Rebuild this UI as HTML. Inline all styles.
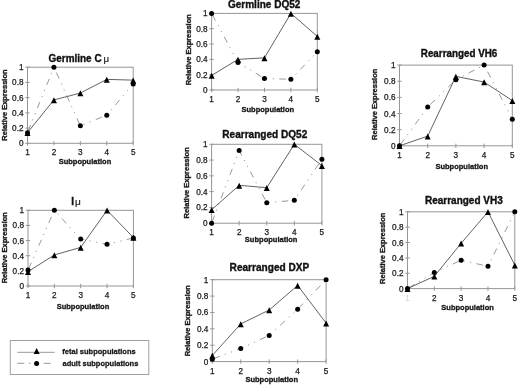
<!DOCTYPE html>
<html><head><meta charset="utf-8"><style>
html,body{margin:0;padding:0;background:#fff;}
svg{display:block;filter:grayscale(1);}
text{font-family:"Liberation Sans",sans-serif;fill:#1a1a1a;}
.tk{font-size:8.2px;stroke:#1a1a1a;stroke-width:0.25px;}
.xl{font-size:8px;font-weight:bold;stroke:#1a1a1a;stroke-width:0.35px;}
.mu{font-size:10px;fill:#222;stroke:#222;stroke-width:0.2px;}
.tt{font-size:10px;font-weight:bold;fill:#111;stroke:#111;stroke-width:0.35px;}
.lg{font-size:7.5px;font-weight:bold;stroke:#1a1a1a;stroke-width:0.3px;}
</style></head><body>
<svg width="520" height="385" viewBox="0 0 520 385">
<rect width="520" height="385" fill="#fff"/>
<rect x="27.5" y="67.2" width="105.7" height="76.1" fill="none" stroke="#969696" stroke-width="1"/>
<line x1="25.3" x2="29.7" y1="143.3" y2="143.3" stroke="#969696" stroke-width="1"/>
<text x="23.5" y="146.3" text-anchor="end" class="tk">0</text>
<line x1="25.3" x2="29.7" y1="128.08" y2="128.08" stroke="#969696" stroke-width="1"/>
<text x="23.5" y="131.08" text-anchor="end" class="tk">0.2</text>
<line x1="25.3" x2="29.7" y1="112.86" y2="112.86" stroke="#969696" stroke-width="1"/>
<text x="23.5" y="115.86" text-anchor="end" class="tk">0.4</text>
<line x1="25.3" x2="29.7" y1="97.64" y2="97.64" stroke="#969696" stroke-width="1"/>
<text x="23.5" y="100.64" text-anchor="end" class="tk">0.6</text>
<line x1="25.3" x2="29.7" y1="82.42" y2="82.42" stroke="#969696" stroke-width="1"/>
<text x="23.5" y="85.42" text-anchor="end" class="tk">0.8</text>
<line x1="25.3" x2="29.7" y1="67.2" y2="67.2" stroke="#969696" stroke-width="1"/>
<text x="23.5" y="70.2" text-anchor="end" class="tk">1</text>
<line x1="27.5" x2="27.5" y1="141.1" y2="145.5" stroke="#969696" stroke-width="1"/>
<text x="27.5" y="155.4" text-anchor="middle" class="tk">1</text>
<line x1="53.92" x2="53.92" y1="141.1" y2="145.5" stroke="#969696" stroke-width="1"/>
<text x="53.92" y="155.4" text-anchor="middle" class="tk">2</text>
<line x1="80.35" x2="80.35" y1="141.1" y2="145.5" stroke="#969696" stroke-width="1"/>
<text x="80.35" y="155.4" text-anchor="middle" class="tk">3</text>
<line x1="106.77" x2="106.77" y1="141.1" y2="145.5" stroke="#969696" stroke-width="1"/>
<text x="106.77" y="155.4" text-anchor="middle" class="tk">4</text>
<line x1="133.2" x2="133.2" y1="141.1" y2="145.5" stroke="#969696" stroke-width="1"/>
<text x="133.2" y="155.4" text-anchor="middle" class="tk">5</text>
<text x="84.95" y="163.6" text-anchor="middle" textLength="52.6" lengthAdjust="spacingAndGlyphs" class="xl">Subpopulation</text>
<text transform="translate(7 105.05) rotate(-90)" text-anchor="middle" textLength="71.2" lengthAdjust="spacingAndGlyphs" class="xl">Relative Expression</text>
<text x="48.5" y="61.8" textLength="53.1" lengthAdjust="spacingAndGlyphs" class="tt">Germline C</text>
<text x="103.4" y="61.8" class="mu" style="font-size:9.2px" textLength="5.6" lengthAdjust="spacingAndGlyphs">&#956;</text>
<polyline points="27.5,132.65 53.92,67.2 80.35,125.8 106.77,115.14 133.2,83.94" fill="none" stroke="#999" stroke-width="1" stroke-dasharray="6.6 5.2 1.2 5.4 1.2 5.4" stroke-dashoffset="-1.5"/>
<polyline points="27.5,132.65 53.92,99.92 80.35,93.07 106.77,79.38 133.2,80.14" fill="none" stroke="#626262" stroke-width="1"/>
<circle cx="27.5" cy="132.65" r="2.5" fill="#000"/>
<circle cx="53.92" cy="67.2" r="2.5" fill="#000"/>
<circle cx="80.35" cy="125.8" r="2.5" fill="#000"/>
<circle cx="106.77" cy="115.14" r="2.5" fill="#000"/>
<circle cx="133.2" cy="83.94" r="2.5" fill="#000"/>
<path d="M27.5 129.95L30.5 135.95L24.5 135.95Z" fill="#000"/>
<path d="M53.92 97.22L56.92 103.22L50.92 103.22Z" fill="#000"/>
<path d="M80.35 90.37L83.35 96.37L77.35 96.37Z" fill="#000"/>
<path d="M106.77 76.68L109.77 82.68L103.77 82.68Z" fill="#000"/>
<path d="M133.2 77.44L136.2 83.44L130.2 83.44Z" fill="#000"/><rect x="28" y="210.3" width="105.4" height="75.7" fill="none" stroke="#969696" stroke-width="1"/>
<line x1="25.8" x2="30.2" y1="286" y2="286" stroke="#969696" stroke-width="1"/>
<text x="24" y="289" text-anchor="end" class="tk">0</text>
<line x1="25.8" x2="30.2" y1="270.86" y2="270.86" stroke="#969696" stroke-width="1"/>
<text x="24" y="273.86" text-anchor="end" class="tk">0.2</text>
<line x1="25.8" x2="30.2" y1="255.72" y2="255.72" stroke="#969696" stroke-width="1"/>
<text x="24" y="258.72" text-anchor="end" class="tk">0.4</text>
<line x1="25.8" x2="30.2" y1="240.58" y2="240.58" stroke="#969696" stroke-width="1"/>
<text x="24" y="243.58" text-anchor="end" class="tk">0.6</text>
<line x1="25.8" x2="30.2" y1="225.44" y2="225.44" stroke="#969696" stroke-width="1"/>
<text x="24" y="228.44" text-anchor="end" class="tk">0.8</text>
<line x1="25.8" x2="30.2" y1="210.3" y2="210.3" stroke="#969696" stroke-width="1"/>
<text x="24" y="213.3" text-anchor="end" class="tk">1</text>
<line x1="28" x2="28" y1="283.8" y2="288.2" stroke="#969696" stroke-width="1"/>
<text x="28" y="298.1" text-anchor="middle" class="tk">1</text>
<line x1="54.35" x2="54.35" y1="283.8" y2="288.2" stroke="#969696" stroke-width="1"/>
<text x="54.35" y="298.1" text-anchor="middle" class="tk">2</text>
<line x1="80.7" x2="80.7" y1="283.8" y2="288.2" stroke="#969696" stroke-width="1"/>
<text x="80.7" y="298.1" text-anchor="middle" class="tk">3</text>
<line x1="107.05" x2="107.05" y1="283.8" y2="288.2" stroke="#969696" stroke-width="1"/>
<text x="107.05" y="298.1" text-anchor="middle" class="tk">4</text>
<line x1="133.4" x2="133.4" y1="283.8" y2="288.2" stroke="#969696" stroke-width="1"/>
<text x="133.4" y="298.1" text-anchor="middle" class="tk">5</text>
<text x="82.95" y="308.5" text-anchor="middle" textLength="52.6" lengthAdjust="spacingAndGlyphs" class="xl">Subpopulation</text>
<text transform="translate(6.9 247.7) rotate(-90)" text-anchor="middle" textLength="71.2" lengthAdjust="spacingAndGlyphs" class="xl">Relative Expression</text>
<text x="71.3" y="204.6" class="tt">I</text>
<text x="74.9" y="204.5" class="mu" style="font-size:8.6px" textLength="5.8" lengthAdjust="spacingAndGlyphs">&#956;</text>
<polyline points="28,270.1 54.35,210.3 80.7,239.07 107.05,244.37 133.4,237.93" fill="none" stroke="#999" stroke-width="1" stroke-dasharray="6.6 5.2 1.2 5.4 1.2 5.4" stroke-dashoffset="-1.5"/>
<polyline points="28,271.62 54.35,254.96 80.7,247.39 107.05,210.3 133.4,237.55" fill="none" stroke="#626262" stroke-width="1"/>
<circle cx="28" cy="270.1" r="2.5" fill="#000"/>
<circle cx="54.35" cy="210.3" r="2.5" fill="#000"/>
<circle cx="80.7" cy="239.07" r="2.5" fill="#000"/>
<circle cx="107.05" cy="244.37" r="2.5" fill="#000"/>
<circle cx="133.4" cy="237.93" r="2.5" fill="#000"/>
<path d="M28 268.92L31 274.92L25 274.92Z" fill="#000"/>
<path d="M54.35 252.26L57.35 258.26L51.35 258.26Z" fill="#000"/>
<path d="M80.7 244.69L83.7 250.69L77.7 250.69Z" fill="#000"/>
<path d="M107.05 207.6L110.05 213.6L104.05 213.6Z" fill="#000"/>
<path d="M133.4 234.85L136.4 240.85L130.4 240.85Z" fill="#000"/><rect x="211.6" y="13.4" width="105.7" height="76.6" fill="none" stroke="#969696" stroke-width="1"/>
<line x1="209.4" x2="213.8" y1="90" y2="90" stroke="#969696" stroke-width="1"/>
<text x="207.6" y="93" text-anchor="end" class="tk">0</text>
<line x1="209.4" x2="213.8" y1="74.68" y2="74.68" stroke="#969696" stroke-width="1"/>
<text x="207.6" y="77.68" text-anchor="end" class="tk">0.2</text>
<line x1="209.4" x2="213.8" y1="59.36" y2="59.36" stroke="#969696" stroke-width="1"/>
<text x="207.6" y="62.36" text-anchor="end" class="tk">0.4</text>
<line x1="209.4" x2="213.8" y1="44.04" y2="44.04" stroke="#969696" stroke-width="1"/>
<text x="207.6" y="47.04" text-anchor="end" class="tk">0.6</text>
<line x1="209.4" x2="213.8" y1="28.72" y2="28.72" stroke="#969696" stroke-width="1"/>
<text x="207.6" y="31.72" text-anchor="end" class="tk">0.8</text>
<line x1="209.4" x2="213.8" y1="13.4" y2="13.4" stroke="#969696" stroke-width="1"/>
<text x="207.6" y="16.4" text-anchor="end" class="tk">1</text>
<line x1="211.6" x2="211.6" y1="87.8" y2="92.2" stroke="#969696" stroke-width="1"/>
<text x="211.6" y="102.1" text-anchor="middle" class="tk">1</text>
<line x1="238.03" x2="238.03" y1="87.8" y2="92.2" stroke="#969696" stroke-width="1"/>
<text x="238.03" y="102.1" text-anchor="middle" class="tk">2</text>
<line x1="264.45" x2="264.45" y1="87.8" y2="92.2" stroke="#969696" stroke-width="1"/>
<text x="264.45" y="102.1" text-anchor="middle" class="tk">3</text>
<line x1="290.88" x2="290.88" y1="87.8" y2="92.2" stroke="#969696" stroke-width="1"/>
<text x="290.88" y="102.1" text-anchor="middle" class="tk">4</text>
<line x1="317.3" x2="317.3" y1="87.8" y2="92.2" stroke="#969696" stroke-width="1"/>
<text x="317.3" y="102.1" text-anchor="middle" class="tk">5</text>
<text x="267.8" y="111.6" text-anchor="middle" textLength="52.6" lengthAdjust="spacingAndGlyphs" class="xl">Subpopulation</text>
<text transform="translate(190.7 49.75) rotate(-90)" text-anchor="middle" textLength="71.2" lengthAdjust="spacingAndGlyphs" class="xl">Relative Expression</text>
<text x="227.9" y="7.8" textLength="72.5" lengthAdjust="spacingAndGlyphs" class="tt">Germline DQ52</text>
<polyline points="211.6,13.4 238.03,62.42 264.45,78.51 290.88,79.28 317.3,51.7" fill="none" stroke="#999" stroke-width="1" stroke-dasharray="6.6 5.2 1.2 5.4 1.2 5.4" stroke-dashoffset="-1.5"/>
<polyline points="211.6,75.45 238.03,59.36 264.45,57.83 290.88,13.4 317.3,36.38" fill="none" stroke="#626262" stroke-width="1"/>
<circle cx="211.6" cy="13.4" r="2.5" fill="#000"/>
<circle cx="238.03" cy="62.42" r="2.5" fill="#000"/>
<circle cx="264.45" cy="78.51" r="2.5" fill="#000"/>
<circle cx="290.88" cy="79.28" r="2.5" fill="#000"/>
<circle cx="317.3" cy="51.7" r="2.5" fill="#000"/>
<path d="M211.6 72.75L214.6 78.75L208.6 78.75Z" fill="#000"/>
<path d="M238.03 56.66L241.03 62.66L235.03 62.66Z" fill="#000"/>
<path d="M264.45 55.13L267.45 61.13L261.45 61.13Z" fill="#000"/>
<path d="M290.88 10.7L293.88 16.7L287.88 16.7Z" fill="#000"/>
<path d="M317.3 33.68L320.3 39.68L314.3 39.68Z" fill="#000"/><rect x="211.6" y="144.3" width="110.3" height="78.9" fill="none" stroke="#969696" stroke-width="1"/>
<line x1="209.4" x2="213.8" y1="223.2" y2="223.2" stroke="#969696" stroke-width="1"/>
<text x="207.6" y="226.2" text-anchor="end" class="tk">0</text>
<line x1="209.4" x2="213.8" y1="207.42" y2="207.42" stroke="#969696" stroke-width="1"/>
<text x="207.6" y="210.42" text-anchor="end" class="tk">0.2</text>
<line x1="209.4" x2="213.8" y1="191.64" y2="191.64" stroke="#969696" stroke-width="1"/>
<text x="207.6" y="194.64" text-anchor="end" class="tk">0.4</text>
<line x1="209.4" x2="213.8" y1="175.86" y2="175.86" stroke="#969696" stroke-width="1"/>
<text x="207.6" y="178.86" text-anchor="end" class="tk">0.6</text>
<line x1="209.4" x2="213.8" y1="160.08" y2="160.08" stroke="#969696" stroke-width="1"/>
<text x="207.6" y="163.08" text-anchor="end" class="tk">0.8</text>
<line x1="209.4" x2="213.8" y1="144.3" y2="144.3" stroke="#969696" stroke-width="1"/>
<text x="207.6" y="147.3" text-anchor="end" class="tk">1</text>
<line x1="211.6" x2="211.6" y1="221" y2="225.4" stroke="#969696" stroke-width="1"/>
<text x="211.6" y="235.3" text-anchor="middle" class="tk">1</text>
<line x1="239.17" x2="239.17" y1="221" y2="225.4" stroke="#969696" stroke-width="1"/>
<text x="239.17" y="235.3" text-anchor="middle" class="tk">2</text>
<line x1="266.75" x2="266.75" y1="221" y2="225.4" stroke="#969696" stroke-width="1"/>
<text x="266.75" y="235.3" text-anchor="middle" class="tk">3</text>
<line x1="294.32" x2="294.32" y1="221" y2="225.4" stroke="#969696" stroke-width="1"/>
<text x="294.32" y="235.3" text-anchor="middle" class="tk">4</text>
<line x1="321.9" x2="321.9" y1="221" y2="225.4" stroke="#969696" stroke-width="1"/>
<text x="321.9" y="235.3" text-anchor="middle" class="tk">5</text>
<text x="271.15" y="242.4" text-anchor="middle" textLength="52.6" lengthAdjust="spacingAndGlyphs" class="xl">Subpopulation</text>
<text transform="translate(188.6 182.85) rotate(-90)" text-anchor="middle" textLength="71.2" lengthAdjust="spacingAndGlyphs" class="xl">Relative Expression</text>
<text x="222.3" y="137.5" textLength="85" lengthAdjust="spacingAndGlyphs" class="tt">Rearranged DQ52</text>
<polyline points="211.6,223.2 239.17,150.61 266.75,202.69 294.32,200.32 321.9,159.29" fill="none" stroke="#999" stroke-width="1" stroke-dasharray="6.6 5.2 1.2 5.4 1.2 5.4" stroke-dashoffset="-1.5"/>
<polyline points="211.6,209.79 239.17,185.33 266.75,187.69 294.32,144.3 321.9,165.6" fill="none" stroke="#626262" stroke-width="1"/>
<circle cx="211.6" cy="223.2" r="2.5" fill="#000"/>
<circle cx="239.17" cy="150.61" r="2.5" fill="#000"/>
<circle cx="266.75" cy="202.69" r="2.5" fill="#000"/>
<circle cx="294.32" cy="200.32" r="2.5" fill="#000"/>
<circle cx="321.9" cy="159.29" r="2.5" fill="#000"/>
<path d="M211.6 207.09L214.6 213.09L208.6 213.09Z" fill="#000"/>
<path d="M239.17 182.63L242.17 188.63L236.17 188.63Z" fill="#000"/>
<path d="M266.75 185L269.75 191L263.75 191Z" fill="#000"/>
<path d="M294.32 141.6L297.32 147.6L291.32 147.6Z" fill="#000"/>
<path d="M321.9 162.9L324.9 168.9L318.9 168.9Z" fill="#000"/><rect x="212.3" y="279.7" width="113.8" height="81.9" fill="none" stroke="#969696" stroke-width="1"/>
<line x1="210.1" x2="214.5" y1="361.6" y2="361.6" stroke="#969696" stroke-width="1"/>
<text x="208.3" y="364.6" text-anchor="end" class="tk">0</text>
<line x1="210.1" x2="214.5" y1="345.22" y2="345.22" stroke="#969696" stroke-width="1"/>
<text x="208.3" y="348.22" text-anchor="end" class="tk">0.2</text>
<line x1="210.1" x2="214.5" y1="328.84" y2="328.84" stroke="#969696" stroke-width="1"/>
<text x="208.3" y="331.84" text-anchor="end" class="tk">0.4</text>
<line x1="210.1" x2="214.5" y1="312.46" y2="312.46" stroke="#969696" stroke-width="1"/>
<text x="208.3" y="315.46" text-anchor="end" class="tk">0.6</text>
<line x1="210.1" x2="214.5" y1="296.08" y2="296.08" stroke="#969696" stroke-width="1"/>
<text x="208.3" y="299.08" text-anchor="end" class="tk">0.8</text>
<line x1="210.1" x2="214.5" y1="279.7" y2="279.7" stroke="#969696" stroke-width="1"/>
<text x="208.3" y="282.7" text-anchor="end" class="tk">1</text>
<line x1="212.3" x2="212.3" y1="359.4" y2="363.8" stroke="#969696" stroke-width="1"/>
<text x="212.3" y="373.7" text-anchor="middle" class="tk">1</text>
<line x1="240.75" x2="240.75" y1="359.4" y2="363.8" stroke="#969696" stroke-width="1"/>
<text x="240.75" y="373.7" text-anchor="middle" class="tk">2</text>
<line x1="269.2" x2="269.2" y1="359.4" y2="363.8" stroke="#969696" stroke-width="1"/>
<text x="269.2" y="373.7" text-anchor="middle" class="tk">3</text>
<line x1="297.65" x2="297.65" y1="359.4" y2="363.8" stroke="#969696" stroke-width="1"/>
<text x="297.65" y="373.7" text-anchor="middle" class="tk">4</text>
<line x1="326.1" x2="326.1" y1="359.4" y2="363.8" stroke="#969696" stroke-width="1"/>
<text x="326.1" y="373.7" text-anchor="middle" class="tk">5</text>
<text x="271.7" y="381.5" text-anchor="middle" textLength="52.6" lengthAdjust="spacingAndGlyphs" class="xl">Subpopulation</text>
<text transform="translate(189.8 320.7) rotate(-90)" text-anchor="middle" textLength="71.2" lengthAdjust="spacingAndGlyphs" class="xl">Relative Expression</text>
<text x="229.6" y="271.2" textLength="79.6" lengthAdjust="spacingAndGlyphs" class="tt">Rearranged DXP</text>
<polyline points="212.3,359.14 240.75,348.5 269.2,335.39 297.65,309.18 326.1,279.7" fill="none" stroke="#999" stroke-width="1" stroke-dasharray="6.6 5.2 1.2 5.4 1.2 5.4" stroke-dashoffset="-1.5"/>
<polyline points="212.3,355.46 240.75,323.93 269.2,310 297.65,285.43 326.1,323.11" fill="none" stroke="#626262" stroke-width="1"/>
<circle cx="212.3" cy="359.14" r="2.5" fill="#000"/>
<circle cx="240.75" cy="348.5" r="2.5" fill="#000"/>
<circle cx="269.2" cy="335.39" r="2.5" fill="#000"/>
<circle cx="297.65" cy="309.18" r="2.5" fill="#000"/>
<circle cx="326.1" cy="279.7" r="2.5" fill="#000"/>
<path d="M212.3 352.76L215.3 358.76L209.3 358.76Z" fill="#000"/>
<path d="M240.75 321.23L243.75 327.23L237.75 327.23Z" fill="#000"/>
<path d="M269.2 307.3L272.2 313.3L266.2 313.3Z" fill="#000"/>
<path d="M297.65 282.73L300.65 288.73L294.65 288.73Z" fill="#000"/>
<path d="M326.1 320.41L329.1 326.41L323.1 326.41Z" fill="#000"/><rect x="399.5" y="65.1" width="112.8" height="80.7" fill="none" stroke="#969696" stroke-width="1"/>
<line x1="397.3" x2="401.7" y1="145.8" y2="145.8" stroke="#969696" stroke-width="1"/>
<text x="395.5" y="148.8" text-anchor="end" class="tk">0</text>
<line x1="397.3" x2="401.7" y1="129.66" y2="129.66" stroke="#969696" stroke-width="1"/>
<text x="395.5" y="132.66" text-anchor="end" class="tk">0.2</text>
<line x1="397.3" x2="401.7" y1="113.52" y2="113.52" stroke="#969696" stroke-width="1"/>
<text x="395.5" y="116.52" text-anchor="end" class="tk">0.4</text>
<line x1="397.3" x2="401.7" y1="97.38" y2="97.38" stroke="#969696" stroke-width="1"/>
<text x="395.5" y="100.38" text-anchor="end" class="tk">0.6</text>
<line x1="397.3" x2="401.7" y1="81.24" y2="81.24" stroke="#969696" stroke-width="1"/>
<text x="395.5" y="84.24" text-anchor="end" class="tk">0.8</text>
<line x1="397.3" x2="401.7" y1="65.1" y2="65.1" stroke="#969696" stroke-width="1"/>
<text x="395.5" y="68.1" text-anchor="end" class="tk">1</text>
<line x1="399.5" x2="399.5" y1="143.6" y2="148" stroke="#969696" stroke-width="1"/>
<text x="399.5" y="157.9" text-anchor="middle" class="tk">1</text>
<line x1="427.7" x2="427.7" y1="143.6" y2="148" stroke="#969696" stroke-width="1"/>
<text x="427.7" y="157.9" text-anchor="middle" class="tk">2</text>
<line x1="455.9" x2="455.9" y1="143.6" y2="148" stroke="#969696" stroke-width="1"/>
<text x="455.9" y="157.9" text-anchor="middle" class="tk">3</text>
<line x1="484.1" x2="484.1" y1="143.6" y2="148" stroke="#969696" stroke-width="1"/>
<text x="484.1" y="157.9" text-anchor="middle" class="tk">4</text>
<line x1="512.3" x2="512.3" y1="143.6" y2="148" stroke="#969696" stroke-width="1"/>
<text x="512.3" y="157.9" text-anchor="middle" class="tk">5</text>
<text x="461.7" y="168.5" text-anchor="middle" textLength="52.6" lengthAdjust="spacingAndGlyphs" class="xl">Subpopulation</text>
<text transform="translate(377.2 104.3) rotate(-90)" text-anchor="middle" textLength="71.2" lengthAdjust="spacingAndGlyphs" class="xl">Relative Expression</text>
<text x="420.8" y="57" textLength="76.5" lengthAdjust="spacingAndGlyphs" class="tt">Rearranged VH6</text>
<polyline points="399.5,145.8 427.7,107.06 455.9,79.63 484.1,65.1 512.3,119.17" fill="none" stroke="#999" stroke-width="1" stroke-dasharray="6.6 5.2 1.2 5.4 1.2 5.4" stroke-dashoffset="-1.5"/>
<polyline points="399.5,145.8 427.7,136.12 455.9,76.4 484.1,82.05 512.3,100.61" fill="none" stroke="#626262" stroke-width="1"/>
<circle cx="399.5" cy="145.8" r="2.5" fill="#000"/>
<circle cx="427.7" cy="107.06" r="2.5" fill="#000"/>
<circle cx="455.9" cy="79.63" r="2.5" fill="#000"/>
<circle cx="484.1" cy="65.1" r="2.5" fill="#000"/>
<circle cx="512.3" cy="119.17" r="2.5" fill="#000"/>
<path d="M399.5 143.1L402.5 149.1L396.5 149.1Z" fill="#000"/>
<path d="M427.7 133.42L430.7 139.42L424.7 139.42Z" fill="#000"/>
<path d="M455.9 73.7L458.9 79.7L452.9 79.7Z" fill="#000"/>
<path d="M484.1 79.35L487.1 85.35L481.1 85.35Z" fill="#000"/>
<path d="M512.3 97.91L515.3 103.91L509.3 103.91Z" fill="#000"/><rect x="407.5" y="211.8" width="107.3" height="76.8" fill="none" stroke="#969696" stroke-width="1"/>
<line x1="405.3" x2="409.7" y1="288.6" y2="288.6" stroke="#969696" stroke-width="1"/>
<text x="403.5" y="291.6" text-anchor="end" class="tk">0</text>
<line x1="405.3" x2="409.7" y1="273.24" y2="273.24" stroke="#969696" stroke-width="1"/>
<text x="403.5" y="276.24" text-anchor="end" class="tk">0.2</text>
<line x1="405.3" x2="409.7" y1="257.88" y2="257.88" stroke="#969696" stroke-width="1"/>
<text x="403.5" y="260.88" text-anchor="end" class="tk">0.4</text>
<line x1="405.3" x2="409.7" y1="242.52" y2="242.52" stroke="#969696" stroke-width="1"/>
<text x="403.5" y="245.52" text-anchor="end" class="tk">0.6</text>
<line x1="405.3" x2="409.7" y1="227.16" y2="227.16" stroke="#969696" stroke-width="1"/>
<text x="403.5" y="230.16" text-anchor="end" class="tk">0.8</text>
<line x1="405.3" x2="409.7" y1="211.8" y2="211.8" stroke="#969696" stroke-width="1"/>
<text x="403.5" y="214.8" text-anchor="end" class="tk">1</text>
<line x1="407.5" x2="407.5" y1="286.4" y2="290.8" stroke="#969696" stroke-width="1"/>
<text x="407.5" y="300.7" text-anchor="middle" class="tk" style="fill:#d0d0d0;stroke:none">1</text>
<line x1="434.32" x2="434.32" y1="286.4" y2="290.8" stroke="#969696" stroke-width="1"/>
<text x="434.32" y="300.7" text-anchor="middle" class="tk">2</text>
<line x1="461.15" x2="461.15" y1="286.4" y2="290.8" stroke="#969696" stroke-width="1"/>
<text x="461.15" y="300.7" text-anchor="middle" class="tk">3</text>
<line x1="487.97" x2="487.97" y1="286.4" y2="290.8" stroke="#969696" stroke-width="1"/>
<text x="487.97" y="300.7" text-anchor="middle" class="tk">4</text>
<line x1="514.8" x2="514.8" y1="286.4" y2="290.8" stroke="#969696" stroke-width="1"/>
<text x="514.8" y="300.7" text-anchor="middle" class="tk">5</text>
<text x="467.6" y="310.4" text-anchor="middle" textLength="52.6" lengthAdjust="spacingAndGlyphs" class="xl">Subpopulation</text>
<text transform="translate(385.2 248.3) rotate(-90)" text-anchor="middle" textLength="71.2" lengthAdjust="spacingAndGlyphs" class="xl">Relative Expression</text>
<text x="425" y="204.4" textLength="77.7" lengthAdjust="spacingAndGlyphs" class="tt">Rearranged VH3</text>
<polyline points="407.5,288.6 434.32,272.47 461.15,260.18 487.97,266.33 514.8,211.8" fill="none" stroke="#999" stroke-width="1" stroke-dasharray="6.6 5.2 1.2 5.4 1.2 5.4" stroke-dashoffset="-1.5"/>
<polyline points="407.5,288.6 434.32,276.31 461.15,243.29 487.97,211.8 514.8,265.18" fill="none" stroke="#626262" stroke-width="1"/>
<circle cx="407.5" cy="288.6" r="2.5" fill="#000"/>
<circle cx="434.32" cy="272.47" r="2.5" fill="#000"/>
<circle cx="461.15" cy="260.18" r="2.5" fill="#000"/>
<circle cx="487.97" cy="266.33" r="2.5" fill="#000"/>
<circle cx="514.8" cy="211.8" r="2.5" fill="#000"/>
<path d="M407.5 285.9L410.5 291.9L404.5 291.9Z" fill="#000"/>
<path d="M434.32 273.61L437.32 279.61L431.32 279.61Z" fill="#000"/>
<path d="M461.15 240.59L464.15 246.59L458.15 246.59Z" fill="#000"/>
<path d="M487.97 209.1L490.97 215.1L484.97 215.1Z" fill="#000"/>
<path d="M514.8 262.48L517.8 268.48L511.8 268.48Z" fill="#000"/>

<rect x="10.3" y="340.5" width="138.5" height="34" fill="none" stroke="#a0a0a0" stroke-width="1"/>
<line x1="17.3" x2="54.7" y1="352.3" y2="352.3" stroke="#999" stroke-width="1"/>
<path d="M36.6 348.1L39.6 354.1L33.6 354.1Z" fill="#000"/>
<line x1="17.3" x2="24.3" y1="363.3" y2="363.3" stroke="#999" stroke-width="1"/>
<line x1="29" x2="30.7" y1="363.3" y2="363.3" stroke="#999" stroke-width="1"/>
<line x1="43.6" x2="50.6" y1="363.3" y2="363.3" stroke="#999" stroke-width="1"/>
<circle cx="36.6" cy="363.4" r="2.5" fill="#000"/>
<text x="62.3" y="354.3" class="lg">fetal subpopulations</text>
<text x="62.5" y="365.8" class="lg">adult subpopulations</text>

</svg>
</body></html>
